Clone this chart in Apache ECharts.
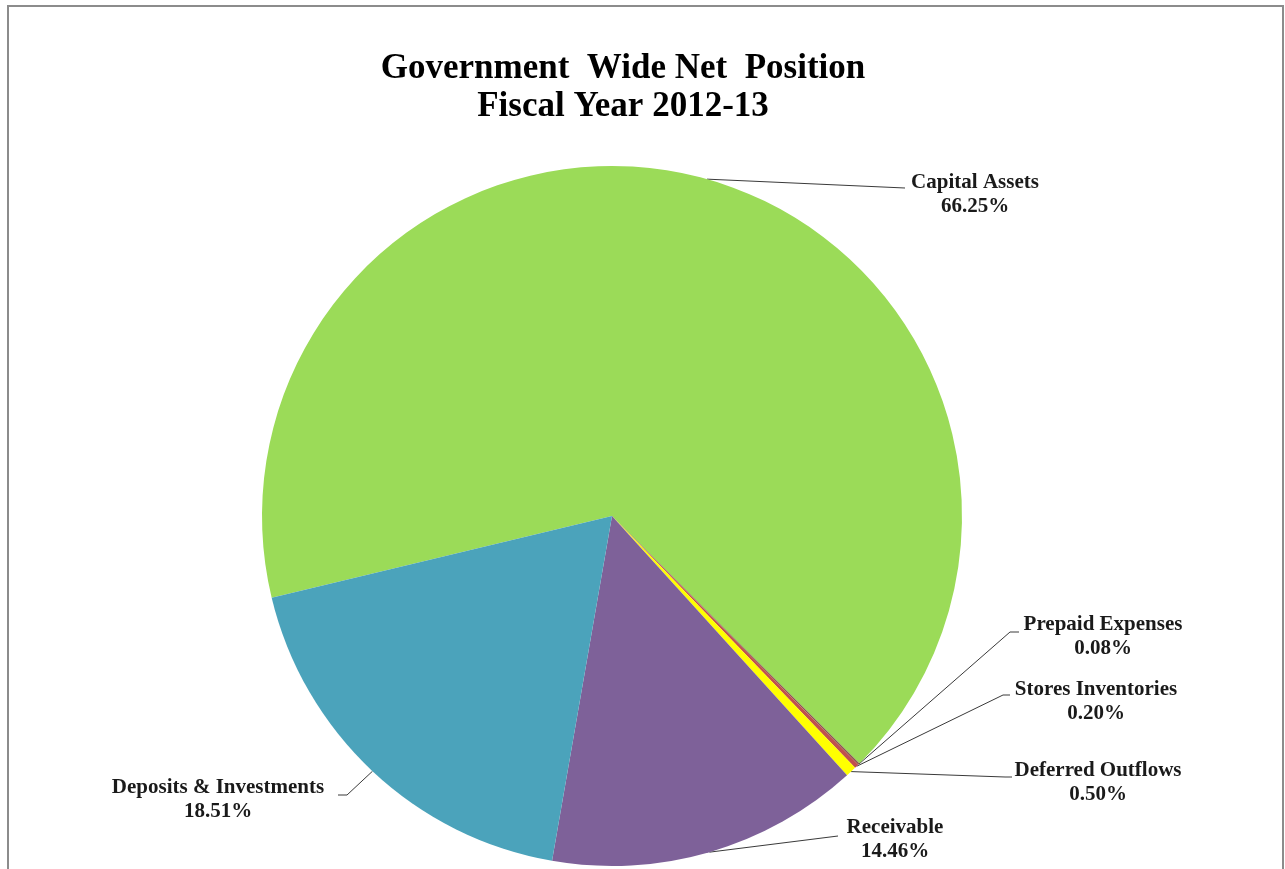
<!DOCTYPE html>
<html>
<head>
<meta charset="utf-8">
<title>Government Wide Net Position</title>
<script src="https://cdn.jsdelivr.net/npm/echarts@6/dist/echarts.min.js"></script>
<style>
  html, body { margin: 0; padding: 0; background: #ffffff; }
  #chart { width: 1285px; height: 869px; }
</style>
</head>
<body>
<div id="chart"></div>
<script>
// Net position components, percent of total, in clockwise order
const categories = [
  'Capital Assets',
  'Prepaid Expenses',
  'Stores Inventories',
  'Deferred Outflows',
  'Receivable',
  'Deposits & Investments'
];
const shares = [66.25, 0.08, 0.20, 0.50, 14.46, 18.51];
const colors = ['#9bdb58', '#8c5a4e', '#c0504d', '#ffff00', '#7e6199', '#4ba3bb'];

// Label anchor spots (text centre, elbow and end of the leader line) in pixels
const labelSpots = [
  { x: 975, y: 195, elbow: [905, 188], end: [905, 188] },
  { x: 1103, y: 637, elbow: [1010, 632], end: [1019, 632] },
  { x: 1096, y: 702, elbow: [1003, 695], end: [1010, 695] },
  { x: 1098, y: 783, elbow: [1005, 777], end: [1012, 777] },
  { x: 895, y: 840, elbow: [838, 836], end: [838, 836] },
  { x: 218, y: 800, elbow: [347, 795], end: [338, 795] }
];

const chart = echarts.init(document.getElementById('chart'), null, { renderer: 'canvas' });

const option = {
  backgroundColor: '#ffffff',
  animation: false,
  title: {
    text: 'Government  Wide Net  Position\nFiscal Year 2012-13',
    left: 618,
    top: 45,
    textAlign: 'center',
    textStyle: {
      fontFamily: 'Liberation Serif',
      fontWeight: 'bold',
      fontSize: 35,
      lineHeight: 38,
      color: '#000000'
    }
  },
  graphic: [{
    type: 'rect',
    silent: true,
    shape: { x: 8, y: 6, width: 1275, height: 900 },
    style: { fill: 'none', stroke: '#8c8c8c', lineWidth: 2 }
  }],
  series: [{
    type: 'pie',
    center: [612, 516],
    radius: 350,
    startAngle: 193.5,
    clockwise: true,
    avoidLabelOverlap: false,
    color: colors,
    itemStyle: { borderWidth: 0 },
    label: {
      show: true,
      position: 'outside',
      fontFamily: 'Liberation Serif',
      fontWeight: 'bold',
      fontSize: 21,
      lineHeight: 24,
      color: '#1a1a1a',
      align: 'center',
      formatter: function (p) {
        return p.name + '\n' + p.value.toFixed(2) + '%';
      }
    },
    labelLine: {
      show: true,
      length: 20,
      length2: 20,
      lineStyle: { color: '#3a3a3a', width: 1 }
    },
    labelLayout: function (params) {
      const spot = labelSpots[params.dataIndex];
      const pts = params.labelLinePoints;
      const start = pts ? pts[0] : spot.elbow;
      return {
        x: spot.x,
        y: spot.y,
        align: 'center',
        verticalAlign: 'middle',
        labelLinePoints: [start, spot.elbow, spot.end]
      };
    },
    data: categories.map(function (name, i) {
      return { name: name, value: shares[i] };
    })
  }]
};

chart.setOption(option);
</script>
</body>
</html>
